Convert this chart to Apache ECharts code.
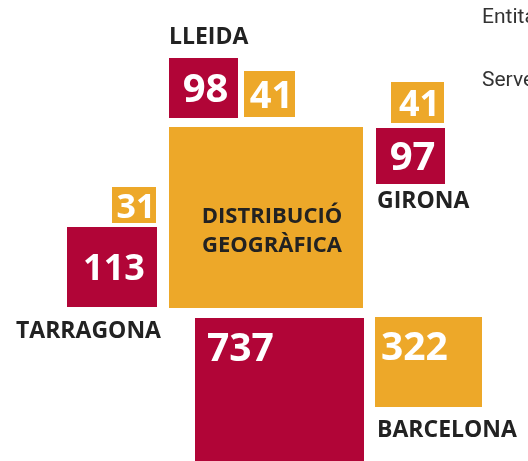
<!DOCTYPE html>
<html>
<head>
<meta charset="utf-8">
<script src="https://cdn.jsdelivr.net/npm/echarts@6/dist/echarts.min.js"></script>
<style>
  html, body { margin: 0; padding: 0; background: #fff; }
  #chart { width: 528px; height: 461px; }
</style>
</head>
<body>
<div id="chart"></div>
<script>
// dades
const provincies = ['LLEIDA', 'GIRONA', 'TARRAGONA', 'BARCELONA'];
const entitats = [98, 97, 113, 737];
const serveis = [41, 41, 31, 322];
const llegenda = ['Entitats', 'Serveis'];
const titol = 'DISTRIBUCIÓ\nGEOGRÀFICA';

// posicions de les caixes (px): x, y, amplada, alçada, alineació, mida de lletra, marge
const caixesEntitats = [
    [169, 58, 69, 60, 'center', 40, 0],
    [376, 128, 69, 56, 'center', 40, 0],
    [67, 227, 90, 80, 'center', 36, 0],
    [195, 318, 169, 170, 'topleft', 39, 12]
];
const caixesServeis = [
    [244, 71, 51, 46, 'center', 38, 0],
    [391, 82, 53, 41, 'center', 36, 0],
    [112, 187, 44, 36, 'center', 34, 0],
    [375, 317, 107, 90, 'topleft', 39, 6]
];
const etiquetes = [
    [169, 37],
    [377, 201],
    [16, 331],
    [377, 430]
];

const VERMELL = '#B10537';
const TARONJA = '#EDA829';
const FONT = '"Open Sans", "Noto Sans", sans-serif';

function caixa(caixes, color) {
    return function(params, api) {
        const c = caixes[params.dataIndex];
        const p0 = api.coord([c[0], c[1]]);
        const p1 = api.coord([c[0] + c[2], c[1] + c[3]]);
        const w = p1[0] - p0[0], h = p1[1] - p0[1];
        const gran = c[4] === 'topleft';
        return {
            type: 'group',
            children: [{
                type: 'rect',
                shape: { x: p0[0], y: p0[1], width: w, height: h },
                style: { fill: color }
            }, {
                type: 'text',
                x: gran ? p0[0] + c[6] : p0[0] + w / 2 + 2,
                y: gran ? p0[1] + 32 : p0[1] + h / 2 + 3,
                style: {
                    text: String(api.value(0)),
                    fill: '#fff',
                    font: 'bold ' + c[5] + 'px ' + FONT,
                    align: gran ? 'left' : 'center',
                    verticalAlign: 'middle'
                }
            }]
        };
    };
}

const chart = echarts.init(document.getElementById('chart'));
chart.setOption({
    animation: false,
    grid: { left: 0, right: 0, top: 0, bottom: 0 },
    xAxis: { type: 'value', min: 0, max: 528, show: false },
    yAxis: { type: 'value', min: 0, max: 461, inverse: true, show: false },
    graphic: [{
        type: 'rect',
        shape: { x: 169, y: 127, width: 194, height: 181 },
        style: { fill: TARONJA }
    }, {
        type: 'text',
        x: 272, y: 231,
        style: {
            text: titol,
            fill: '#222',
            font: 'bold 22px ' + FONT,
            align: 'center',
            verticalAlign: 'middle',
            lineHeight: 29
        }
    }, {
        type: 'text',
        x: 482, y: 18,
        style: { text: llegenda[0], fill: '#333', font: '21px Roboto', verticalAlign: 'middle' }
    }, {
        type: 'text',
        x: 482, y: 81,
        style: { text: llegenda[1], fill: '#333', font: '21px Roboto', verticalAlign: 'middle' }
    }].concat(provincies.map((nom, i) => ({
        type: 'text',
        x: etiquetes[i][0], y: etiquetes[i][1],
        style: {
            text: nom,
            fill: '#222',
            font: 'bold 23px ' + FONT,
            verticalAlign: 'middle'
        }
    }))),
    series: [{
        name: llegenda[0],
        type: 'custom',
        renderItem: caixa(caixesEntitats, VERMELL),
        data: entitats.map(v => [v])
    }, {
        name: llegenda[1],
        type: 'custom',
        renderItem: caixa(caixesServeis, TARONJA),
        data: serveis.map(v => [v])
    }]
});
</script>
</body>
</html>
